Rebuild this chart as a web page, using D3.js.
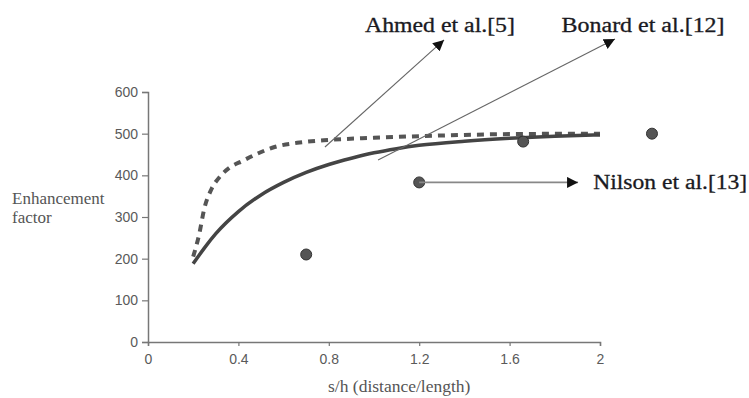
<!DOCTYPE html>
<html>
<head>
<meta charset="utf-8">
<script src="https://cdn.jsdelivr.net/npm/d3@7"></script>
<style>
  html, body { margin: 0; padding: 0; background: #fff; }
  svg { display: block; }
</style>
</head>
<body>
<div id="chart"></div>
<script>
// data
var solidX = [0.2, 0.25, 0.3, 0.4, 0.5, 0.6, 0.7, 0.8, 0.9, 1.0, 1.1, 1.2, 1.4, 1.6, 1.8, 2.0];
var solidY = [188, 226, 260, 313, 353, 383, 407, 426, 441, 454, 464, 472, 482, 489, 494, 497];

var dashX = [0.2, 0.225, 0.25, 0.28, 0.32, 0.36, 0.42, 0.48, 0.56, 0.66, 0.8, 1.0, 1.2, 1.4, 1.6, 2.0];
var dashY = [205, 255, 322, 366, 398, 418, 435, 451, 468, 478, 485, 490, 494, 497, 499, 500];

var pointX = [0.70, 1.20, 1.66, 2.23];
var pointY = [210, 383, 481, 500];

var xTicks = [0, 0.4, 0.8, 1.2, 1.6, 2];
var yTicks = [0, 100, 200, 300, 400, 500, 600];

// annotations (data units): label, line start, arrow tip, text anchor
var noteLabels = ["Ahmed et al.[5]", "Bonard et al.[12]", "Nilson et al.[13]"];
var noteFrom = [[0.783, 468], [1.018, 437], [1.2, 383]];
var noteTo = [[1.31, 725], [2.066, 727], [1.903, 383]];
var noteText = [[0.96, 744], [1.83, 744], [1.97, 367]];
var noteWidth = [150, 163, 154];

var width = 749, height = 398;

var svg = d3.select("#chart").append("svg")
    .attr("width", width)
    .attr("height", height);

var x = d3.scaleLinear().domain([0, 2]).range([148, 600]);
var y = d3.scaleLinear().domain([0, 600]).range([342, 92]);

svg.append("defs").append("marker")
    .attr("id", "head")
    .attr("viewBox", "0 0 10 10")
    .attr("refX", 10).attr("refY", 5)
    .attr("markerWidth", 11).attr("markerHeight", 11)
    .attr("markerUnits", "userSpaceOnUse")
    .attr("orient", "auto")
  .append("path")
    .attr("d", "M0,0 L10,5 L0,10 Z")
    .attr("fill", "#111");

// axes
var xAxis = d3.axisBottom(x).tickValues(xTicks).tickSize(4).tickPadding(8)
    .tickFormat(function(d) { return d === 0 || d === 2 ? d : d3.format(".1f")(d); });
var yAxis = d3.axisLeft(y).tickValues(yTicks).tickSize(6).tickPadding(4);

var xg = svg.append("g").attr("transform", "translate(0," + y(0) + ")").call(xAxis);
var yg = svg.append("g").attr("transform", "translate(" + x(0) + ",0)").call(yAxis);

[xg, yg].forEach(function(g) {
  g.select(".domain").attr("stroke", "#777").attr("stroke-width", 1.5);
  g.selectAll(".tick line").attr("stroke", "#777").attr("stroke-width", 1.2);
  g.selectAll(".tick text")
    .attr("fill", "#5a5a5a")
    .style("font-family", "Liberation Sans, Arial, sans-serif")
    .style("font-size", "14px");
});

// axis titles
svg.append("text")
    .attr("x", 328).attr("y", 392)
    .attr("fill", "#555")
    .style("font-family", "Liberation Serif, Times New Roman, serif")
    .style("font-size", "17.5px")
    .text("s/h (distance/length)");

var yt = svg.append("text")
    .attr("fill", "#555")
    .style("font-family", "Liberation Serif, Times New Roman, serif")
    .style("font-size", "17px");
yt.append("tspan").attr("x", 12).attr("y", 204).text("Enhancement");
yt.append("tspan").attr("x", 12).attr("y", 223).text("factor");

// curves
var line = d3.line()
    .x(function(d) { return x(d[0]); })
    .y(function(d) { return y(d[1]); })
    .curve(d3.curveMonotoneX);

svg.append("path")
    .datum(dashX.map(function(v, i) { return [v, dashY[i]]; }))
    .attr("d", line)
    .attr("fill", "none")
    .attr("stroke", "#555")
    .attr("stroke-width", 4)
    .attr("stroke-dasharray", "7,6");

svg.append("path")
    .datum(solidX.map(function(v, i) { return [v, solidY[i]]; }))
    .attr("d", line)
    .attr("fill", "none")
    .attr("stroke", "#444")
    .attr("stroke-width", 3.5);

// points
svg.selectAll("circle.pt")
    .data(pointX.map(function(v, i) { return [v, pointY[i]]; }))
  .enter().append("circle")
    .attr("class", "pt")
    .attr("cx", function(d) { return x(d[0]); })
    .attr("cy", function(d) { return y(d[1]); })
    .attr("r", 5.5)
    .attr("fill", "#555")
    .attr("stroke", "#333")
    .attr("stroke-width", 1);

// annotation arrows
noteLabels.forEach(function(label, i) {
  svg.append("line")
    .attr("x1", x(noteFrom[i][0])).attr("y1", y(noteFrom[i][1]))
    .attr("x2", x(noteTo[i][0])).attr("y2", y(noteTo[i][1]))
    .attr("stroke", i === 2 ? "#888" : "#666")
    .attr("stroke-width", i === 2 ? 1.6 : 1.1)
    .attr("marker-end", "url(#head)");

  svg.append("text")
    .attr("x", x(noteText[i][0])).attr("y", y(noteText[i][1]))
    .attr("fill", "#1a1a22")
    .attr("stroke", "#1a1a22")
    .attr("stroke-width", 0.3)
    .attr("textLength", noteWidth[i])
    .attr("lengthAdjust", "spacingAndGlyphs")
    .style("font-family", "Liberation Serif, serif")
    .style("font-size", "20px")
    .text(label);
});
</script>
</body>
</html>
